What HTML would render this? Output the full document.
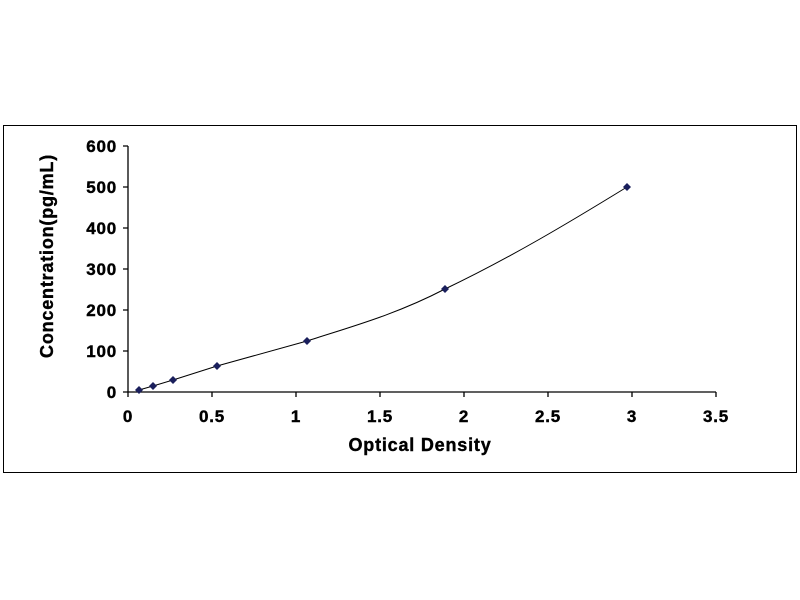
<!DOCTYPE html>
<html><head><style>body{margin:0;background:#fff}svg{display:block}text{font-family:"Liberation Sans",Arial,sans-serif;font-weight:bold;fill:#000;stroke:#000;stroke-width:0.4}</style></head>
<body>
<svg width="800" height="600" viewBox="0 0 800 600">
<rect x="3.5" y="125.5" width="793" height="347" fill="none" stroke="#000" stroke-width="1"/>
<g stroke="#000" stroke-width="1.3" fill="none">
<path d="M128 146V392H716"/>
<path d="M123 146H128M123 187H128M123 228H128M123 269H128M123 310H128M123 351H128M123 392H128"/>
<path d="M128 392V397M212 392V397M296 392V397M380 392V397M464 392V397M548 392V397M632 392V397M716 392V397"/>
</g>
<g font-size="17" text-anchor="end" letter-spacing="0.8">
<text x="117" y="152">600</text><text x="117" y="193">500</text><text x="117" y="234">400</text>
<text x="117" y="275">300</text><text x="117" y="316">200</text><text x="117" y="357">100</text><text x="117" y="398">0</text>
</g>
<g font-size="17" text-anchor="middle" letter-spacing="0.8">
<text x="128" y="422">0</text><text x="212" y="422">0.5</text><text x="296" y="422">1</text><text x="380" y="422">1.5</text>
<text x="464" y="422">2</text><text x="548" y="422">2.5</text><text x="632" y="422">3</text><text x="716" y="422">3.5</text>
</g>
<text x="420" y="451" font-size="18" text-anchor="middle" letter-spacing="0.8">Optical Density</text>
<text transform="translate(53,256) rotate(-90)" font-size="18" text-anchor="middle" letter-spacing="0.8">Concentration(pg/mL)</text>
<path d="M139 390 L153 386 L173 380 L217 366 L307 341 C350 327 395 315 445 289 C510 258 570 222 627 187" fill="none" stroke="#000" stroke-width="1"/>
<g fill="#1a1f5c">
<path d="M139 386l4 4-4 4-4-4z"/><path d="M153 382l4 4-4 4-4-4z"/><path d="M173 376l4 4-4 4-4-4z"/>
<path d="M217 362l4 4-4 4-4-4z"/><path d="M307 337l4 4-4 4-4-4z"/><path d="M445 285l4 4-4 4-4-4z"/><path d="M627 183l4 4-4 4-4-4z"/>
</g>
</svg>
</body></html>
